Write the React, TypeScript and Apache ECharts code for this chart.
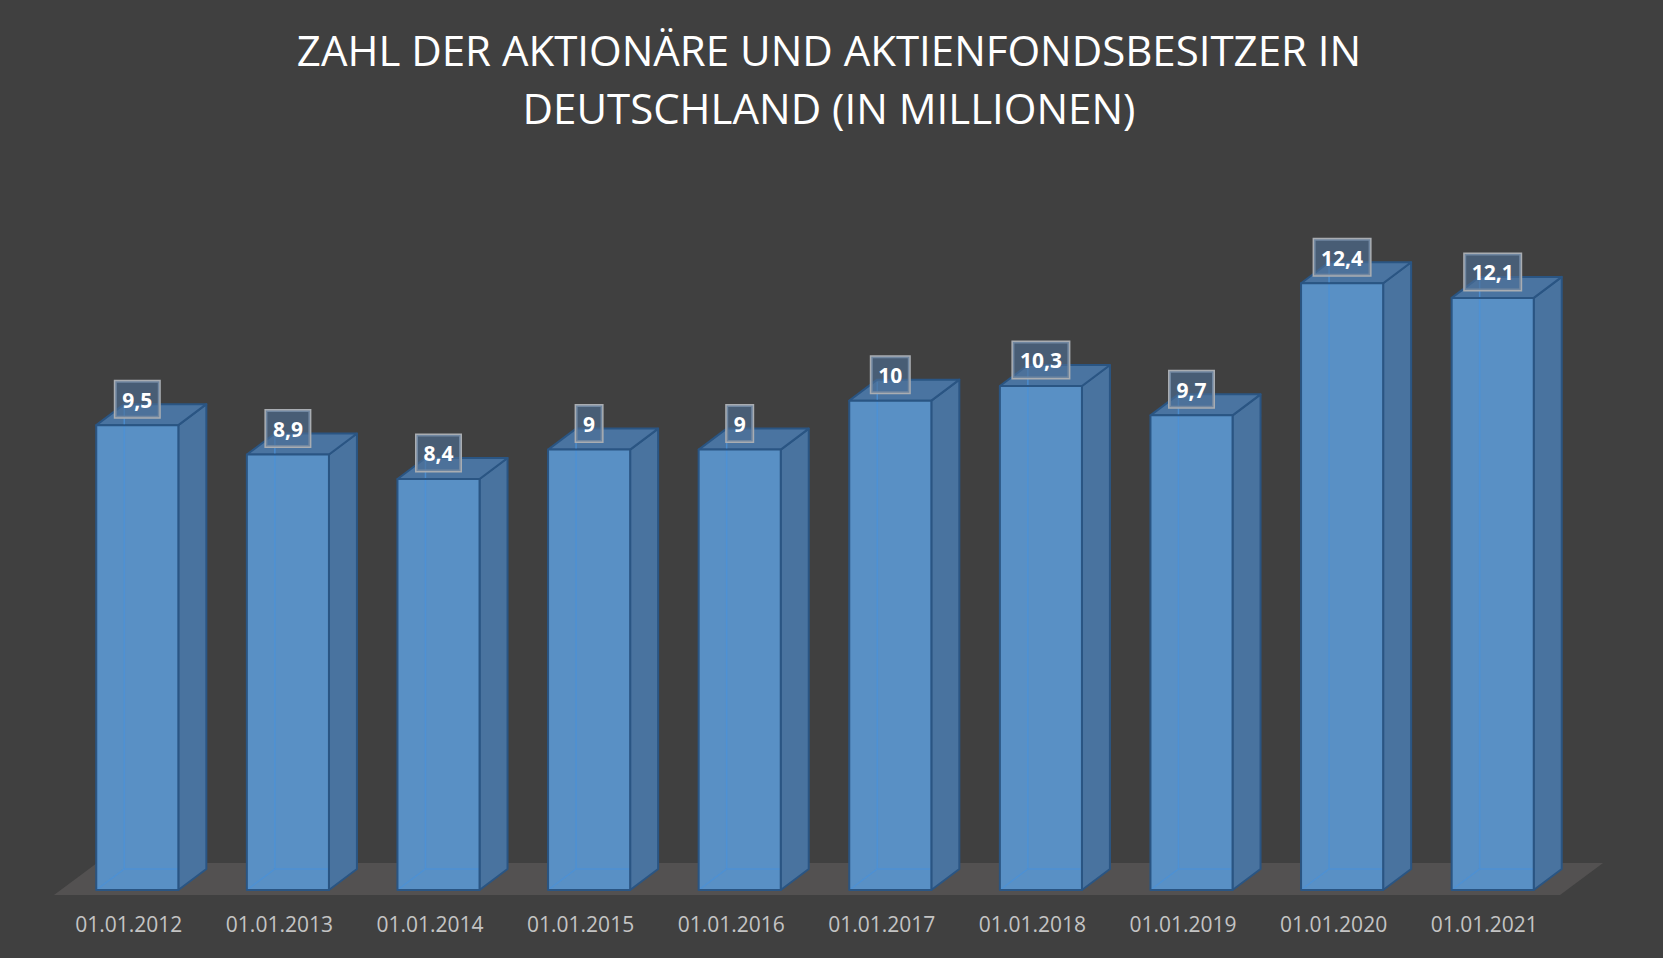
import React, { useEffect, useRef } from "react";
import * as echarts from "echarts";

const categories = [
  "01.01.2012", "01.01.2013", "01.01.2014", "01.01.2015", "01.01.2016",
  "01.01.2017", "01.01.2018", "01.01.2019", "01.01.2020", "01.01.2021",
];
const values = [9.5, 8.9, 8.4, 9, 9, 10, 10.3, 9.7, 12.4, 12.1];
const titleText = "ZAHL DER AKTIONÄRE UND AKTIENFONDSBESITZER IN\nDEUTSCHLAND (IN MILLIONEN)";

const DX = 28;
const DY = 21;

function fmt(v: number) {
  return String(v).replace(".", ",");
}

export default function App() {
  const ref = useRef<HTMLDivElement>(null);
  useEffect(() => {
    if (!ref.current) return;
    const chart = echarts.init(ref.current, null, { renderer: "svg" });
    const barItem = (params: any, api: any) => {
      const idx = api.value(0);
      const v = api.value(1);
      const top = api.coord([idx, v]);
      const bot = api.coord([idx, 0]);
      const band = api.size([1, 0])[0];
      const w = band * 0.545;
      const x0 = top[0] - w / 2;
      const x1 = top[0] + w / 2;
      const yT = top[1];
      const yB = bot[1];
      const edge = { stroke: "#2a5583", lineWidth: 2, lineJoin: "round" };
      const hidden = { stroke: "rgba(75,145,215,0.8)", lineWidth: 1.5 };
      return {
        type: "group",
        children: [
          {
            type: "polygon",
            shape: { points: [[x1, yT], [x1 + DX, yT - DY], [x1 + DX, yB - DY], [x1, yB]] },
            style: { fill: "#49739f", ...edge },
          },
          {
            type: "polygon",
            shape: { points: [[x0, yT], [x0 + DX, yT - DY], [x1 + DX, yT - DY], [x1, yT]] },
            style: { fill: "#4a74a1", ...edge },
          },
          {
            type: "rect",
            shape: { x: x0, y: yT, width: w, height: yB - yT },
            style: { fill: "#5990c5" },
          },
          {
            type: "line",
            shape: { x1: x0 + DX, y1: yT - DY + 2, x2: x0 + DX, y2: yB - DY },
            style: hidden,
          },
          {
            type: "line",
            shape: { x1: x0 + DX, y1: yB - DY, x2: x1, y2: yB - DY },
            style: hidden,
          },
          {
            type: "line",
            shape: { x1: x0, y1: yB, x2: x0 + DX, y2: yB - DY },
            style: hidden,
          },
          {
            type: "rect",
            shape: { x: x0, y: yT, width: w, height: yB - yT },
            style: { fill: "none", ...edge },
          },
          {
            type: "text",
            x: top[0],
            y: yT - 8,
            style: {
              text: fmt(v),
              align: "center",
              verticalAlign: "bottom",
              fill: "#ffffff",
              font: "bold 21px 'Open Sans', sans-serif",
              lineHeight: 23,
              padding: [7, 7, 6, 7],
              backgroundColor: "rgba(78,112,150,0.62)",
              borderColor: "#a9adb2",
              borderWidth: 1.5,
            },
          },
        ],
      };
    };
    const floorItem = (params: any, api: any) => {
      const first = api.coord([0, 0]);
      const last = api.coord([categories.length - 1, 0]);
      const band = api.size([1, 0])[0];
      const l = first[0] - band / 2;
      const r = last[0] + band / 2;
      const y = first[1];
      return {
        type: "polygon",
        shape: {
          points: [[l - 8, y + 5], [l + 35, y - 27], [r + 35, y - 27], [r - 8, y + 5]],
        },
        style: { fill: "#535151" },
      };
    };
    chart.setOption({
      animation: false,
      backgroundColor: "#404040",
      title: {
        text: titleText,
        left: 824,
        top: 15,
        textAlign: "center",
        textStyle: {
          color: "#ffffff",
          fontFamily: "'Open Sans', sans-serif",
          fontWeight: "normal",
          fontSize: 42,
          lineHeight: 58,
        },
      },
      grid: { left: 62, right: 95, top: 156, bottom: 68 },
      xAxis: {
        type: "category",
        data: categories,
        boundaryGap: true,
        axisLine: { show: false },
        axisTick: { show: false },
        axisLabel: {
          color: "#c4c4c4",
          fontFamily: "'Open Sans', sans-serif",
          fontSize: 21,
          lineHeight: 21,
          margin: 23,
          padding: [0, 17, 0, 0],
          interval: 0,
        },
      },
      yAxis: { type: "value", min: 0, max: 15, show: false, splitLine: { show: false } },
      series: [
        {
          type: "custom",
          renderItem: floorItem,
          data: [[0, 0]],
          silent: true,
          z: 1,
        },
        {
          type: "custom",
          renderItem: barItem,
          data: values.map((v, i) => [i, v]),
          z: 2,
        },
      ],
    });
    return () => chart.dispose();
  }, []);
  return (
    <div
      ref={ref}
      style={{ position: "fixed", left: 0, top: 0, width: 1663, height: 958 }}
    />
  );
}
